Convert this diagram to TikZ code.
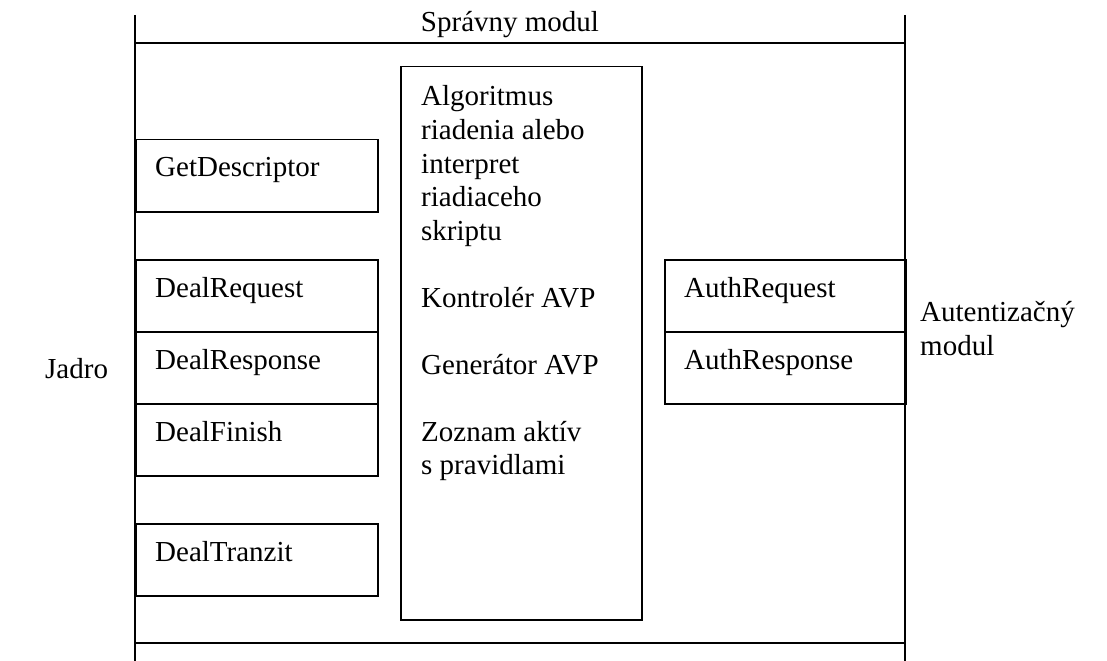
\documentclass[tikz,border=0pt]{standalone}
\usepackage{fontspec}
\setmainfont{Liberation Serif}
\begin{document}
\begin{tikzpicture}[x=1bp,y=-1bp,
  frameline/.style={line width=1.5bp},
  box/.style={draw, line width=1.5bp, anchor=north west, inner sep=0pt,
    minimum width=#1, minimum height=72bp},
  txt/.style={font=\fontsize{29bp}{33.5bp}\selectfont, inner sep=0pt, anchor=base west}]
\useasboundingbox (0,0) rectangle (1107,661);

% module frame
\coordinate (ltop) at (135,15);
\coordinate (lbot) at (135,661);
\coordinate (rtop) at (905,15);
\coordinate (rbot) at (905,661);
\coordinate (hl1) at (135,43);
\coordinate (hr1) at (905,43);
\coordinate (hl2) at (135,643);
\coordinate (hr2) at (905,643);
\draw[frameline] (ltop) -- (lbot);
\draw[frameline] (rtop) -- (rbot);
\draw[frameline] (hl1) -- (hr1);
\draw[frameline] (hl2) -- (hr2);
\node[txt, anchor=base] (title) at (510,32) {Správny modul};

% interface boxes on the core side
\node[box=242bp] (getd) at (135,139) {};
\node[box=242bp] (dreq) at (135,259) {};
\node[box=242bp] (dres) at (135,331) {};
\node[box=242bp] (dfin) at (135,403) {};
\node[box=242bp] (dtra) at (135,523) {};
\node[txt] at ([shift={(20,38)}]getd.north west) {GetDescriptor};
\node[txt] at ([shift={(20,38)}]dreq.north west) {DealRequest};
\node[txt] at ([shift={(20,38)}]dres.north west) {DealResponse};
\node[txt] at ([shift={(20,38)}]dfin.north west) {DealFinish};
\node[txt] at ([shift={(20,38)}]dtra.north west) {DealTranzit};

% control block (the node's base is the baseline of its last line)
\node[box=241bp, minimum height=553bp] (ctrl) at (400,66) {};
\node[txt, align=left] (ctrltext) at ([shift={(21,408.5)}]ctrl.north west)
  {Algoritmus\\riadenia alebo\\interpret\\riadiaceho\\skriptu\\[33.5bp]%
   Kontrolér AVP\\[33.5bp]Generátor AVP\\[33.5bp]Zoznam aktív\\s pravidlami};

% interface boxes on the authentication side
\node[box=241bp] (areq) at (664,259) {};
\node[box=241bp] (ares) at (664,331) {};
\node[txt] at ([shift={(20,38)}]areq.north west) {AuthRequest};
\node[txt] at ([shift={(20,38)}]ares.north west) {AuthResponse};

% neighbouring modules
\node[txt] (core) at (45,378) {Jadro};
\node[txt, align=left] (auth) at (920,355) {Autentizačný\\modul};
\end{tikzpicture}
\end{document}
